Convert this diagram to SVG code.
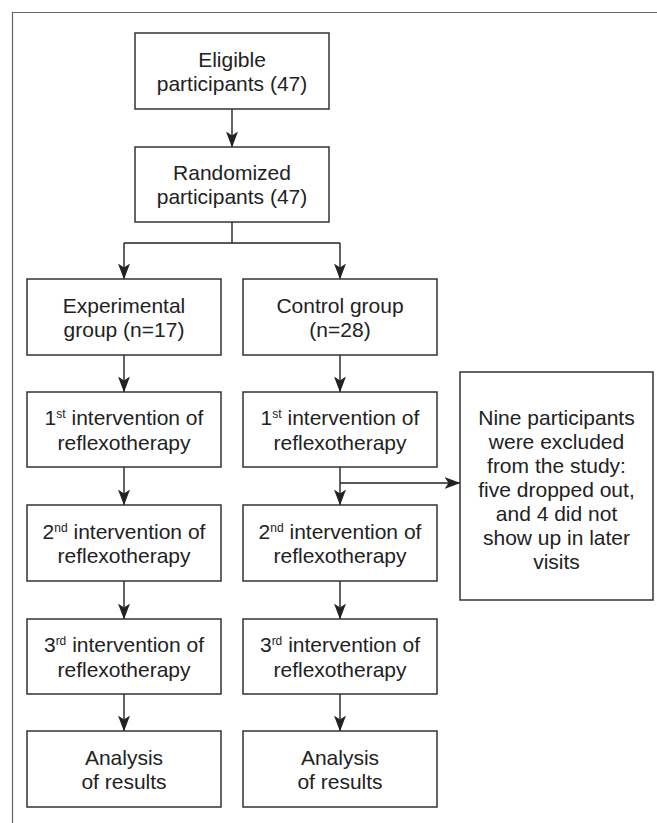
<svg xmlns="http://www.w3.org/2000/svg" width="657" height="823" viewBox="0 0 657 823">
<style>
.box{fill:#fff;stroke:#333;stroke-width:1.5}
.t{font-family:"Liberation Sans",Arial,sans-serif;font-size:21px;fill:#222;text-anchor:middle}
.sup{font-size:12px}
.c{fill:none;stroke:#222;stroke-width:1.4}
.frame{fill:none;stroke:#666;stroke-width:1.2}
</style>
<defs>
<marker id="ah" markerUnits="userSpaceOnUse" markerWidth="16" markerHeight="12" refX="15.5" refY="6" orient="auto" viewBox="0 0 16 12">
<path d="M0,0 L16,6 L0,12 L4,6 z" fill="#222"/>
</marker>
</defs>
<rect width="657" height="823" fill="#fff"/>
<path class="frame" d="M12.5,823 V12.5 H657"/>

<g id="connectors">
<path class="c" d="M232,109 V147" marker-end="url(#ah)"/>
<path class="c" d="M232,222 V243"/>
<path class="c" d="M124,243 H340"/>
<path class="c" d="M124,243 V279" marker-end="url(#ah)"/>
<path class="c" d="M340,243 V279" marker-end="url(#ah)"/>
<path class="c" d="M124,355 V392" marker-end="url(#ah)"/>
<path class="c" d="M340,355 V392" marker-end="url(#ah)"/>
<path class="c" d="M124,467 V505" marker-end="url(#ah)"/>
<path class="c" d="M340,467 V505" marker-end="url(#ah)"/>
<path class="c" d="M340,483 H460" marker-end="url(#ah)"/>
<path class="c" d="M124,581 V619" marker-end="url(#ah)"/>
<path class="c" d="M340,581 V619" marker-end="url(#ah)"/>
<path class="c" d="M124,694 V731" marker-end="url(#ah)"/>
<path class="c" d="M340,694 V731" marker-end="url(#ah)"/>
</g>

<g id="eligible">
<rect class="box" x="135" y="33" width="194" height="76"/>
<text class="t" x="232" y="67">Eligible</text>
<text class="t" x="232" y="91">participants (47)</text>
</g>
<g id="randomized">
<rect class="box" x="135" y="147" width="194" height="75"/>
<text class="t" x="232" y="180">Randomized</text>
<text class="t" x="232" y="204">participants (47)</text>
</g>
<g id="experimental">
<rect class="box" x="27" y="279" width="194" height="76"/>
<text class="t" x="124" y="313">Experimental</text>
<text class="t" x="124" y="337">group (n=17)</text>
</g>
<g id="control">
<rect class="box" x="243" y="279" width="194" height="76"/>
<text class="t" x="340" y="313">Control group</text>
<text class="t" x="340" y="337">(n=28)</text>
</g>
<g id="exp-1st">
<rect class="box" x="27" y="392" width="194" height="75"/>
<text class="t" x="124" y="425">1<tspan class="sup" dy="-7">st</tspan><tspan dy="7"> intervention of</tspan></text>
<text class="t" x="124" y="450">reflexotherapy</text>
</g>
<g id="ctl-1st">
<rect class="box" x="243" y="392" width="194" height="75"/>
<text class="t" x="340" y="425">1<tspan class="sup" dy="-7">st</tspan><tspan dy="7"> intervention of</tspan></text>
<text class="t" x="340" y="450">reflexotherapy</text>
</g>
<g id="excluded">
<rect class="box" x="460" y="372" width="193" height="228"/>
<text class="t" x="556.5" y="425">Nine participants</text>
<text class="t" x="556.5" y="449">were excluded</text>
<text class="t" x="556.5" y="473">from the study:</text>
<text class="t" x="556.5" y="497">five dropped out,</text>
<text class="t" x="556.5" y="521">and 4 did not</text>
<text class="t" x="556.5" y="545">show up in later</text>
<text class="t" x="556.5" y="569">visits</text>
</g>
<g id="exp-2nd">
<rect class="box" x="27" y="505" width="194" height="76"/>
<text class="t" x="124" y="539">2<tspan class="sup" dy="-7">nd</tspan><tspan dy="7"> intervention of</tspan></text>
<text class="t" x="124" y="563">reflexotherapy</text>
</g>
<g id="ctl-2nd">
<rect class="box" x="243" y="505" width="194" height="76"/>
<text class="t" x="340" y="539">2<tspan class="sup" dy="-7">nd</tspan><tspan dy="7"> intervention of</tspan></text>
<text class="t" x="340" y="563">reflexotherapy</text>
</g>
<g id="exp-3rd">
<rect class="box" x="27" y="619" width="194" height="75"/>
<text class="t" x="124" y="652">3<tspan class="sup" dy="-7">rd</tspan><tspan dy="7"> intervention of</tspan></text>
<text class="t" x="124" y="677">reflexotherapy</text>
</g>
<g id="ctl-3rd">
<rect class="box" x="243" y="619" width="194" height="75"/>
<text class="t" x="340" y="652">3<tspan class="sup" dy="-7">rd</tspan><tspan dy="7"> intervention of</tspan></text>
<text class="t" x="340" y="677">reflexotherapy</text>
</g>
<g id="exp-analysis">
<rect class="box" x="27" y="731" width="194" height="76"/>
<text class="t" x="124" y="765">Analysis</text>
<text class="t" x="124" y="789">of results</text>
</g>
<g id="ctl-analysis">
<rect class="box" x="243" y="731" width="194" height="76"/>
<text class="t" x="340" y="765">Analysis</text>
<text class="t" x="340" y="789">of results</text>
</g>
</svg>
